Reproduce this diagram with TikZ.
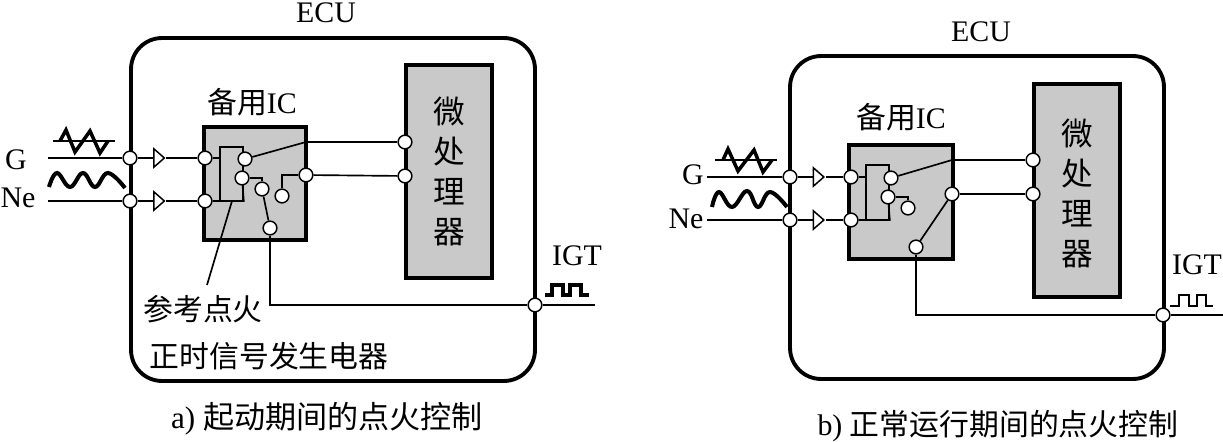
\documentclass[tikz,border=0pt]{standalone}
\usepackage{fontspec}
\setmainfont{Liberation Serif}
\newfontfamily\cjk{Noto Sans CJK SC}
\usetikzlibrary{shapes.geometric,calc,positioning}
\definecolor{chipgray}{gray}{0.79}
\tikzset{
  ecubox/.style={draw,line width=2.2pt,rounded corners=0.62cm,inner sep=0},
  chip/.style={draw,fill=chipgray,line width=2.4pt,inner sep=0},
  relay/.style={draw,line width=0.9pt,inner sep=0},
  pin/.style={draw,circle,fill=white,minimum size=7.8pt,line width=0.85pt,inner sep=0},
  buf/.style={draw,isosceles triangle,isosceles triangle stretches,fill=white,minimum width=10.5pt,minimum height=6pt,line width=0.85pt,inner sep=0},
  wire/.style={line width=0.95pt},
  hwire/.style={line width=1.4pt},
  wave/.style={line width=2pt,line join=miter},
  lbl/.style={font=\fontsize{17}{20}\selectfont,inner sep=0},
  zhlbl/.style={font=\fontsize{17}{20}\selectfont\cjk,inner sep=0},
  captxt/.style={font=\fontsize{17}{20}\selectfont,inner sep=0},
  mcutxt/.style={font=\fontsize{18}{22.6}\selectfont\cjk,align=center,inner sep=0}
}
\begin{document}
\begin{tikzpicture}[x=0.02cm,y=-0.02cm]
  \useasboundingbox (0,0) rectangle (1223,442);
  % panel a
  \node[ecubox,minimum width=8.08cm,minimum height=6.86cm] (ecuA) at (333,209.5) {};
  \node[chip,minimum width=2.04cm,minimum height=2.26cm] (icA) at (255,183.5) {};
  \node[chip,minimum width=1.72cm,minimum height=4.26cm] (mcuA) at (449,171.5) {};
  \node[mcutxt] (mcuAl) at (449,171.5) {微\\处\\理\\器};
  \node[relay,minimum width=0.46cm,minimum height=1.08cm] (relayA) at (231.5,174) {};
  \node[lbl] (ecuAl) at (326,13) {ECU};
  \node[lbl] (icAl) at (252,102) {{\cjk 备用}IC};
  \node[lbl] (gA) at (16,160) {G};
  \node[lbl] (neA) at (18,198) {Ne};
  \node[lbl] (igtA) at (577,256) {IGT};
  \node[zhlbl] (refA) at (203,309) {参考点火};
  \node[zhlbl] (timA) at (269,356) {正时信号发生电器};
  \node[captxt,font=\fontsize{17.7}{20}\selectfont] (capA) at (327,419) {a) {\cjk 起动期间的点火控制}};
  % input pins and buffers
  \coordinate (inGA) at (48,158);
  \coordinate (inNA) at (48,201);
  \node[pin] (bGA) at (130,158) {};
  \node[pin] (bNA) at (130,201) {};
  \node[buf] (tGA) at (158,158) {};
  \node[buf] (tNA) at (158,201) {};
  \node[pin] (iGA) at (205,158) {};
  \node[pin] (iNA) at (205,201) {};
  % switch contacts
  \node[pin] (c1A) at (245,159) {};
  \node[pin] (c2A) at (242,178) {};
  \node[pin] (c3A) at (262,189) {};
  \node[pin] (c4A) at (282,196) {};
  \node[pin] (c5A) at (306,175) {};
  \node[pin] (c6A) at (270,228) {};
  \node[pin] (m1A) at (405,142) {};
  \node[pin] (m2A) at (405,176) {};
  \node[pin] (oA) at (535,305) {};
  \coordinate (t1A) at (306,142);
  \coordinate (outA) at (595,305);
  \coordinate (leadA) at (207,285);
  \coordinate (baseA) at (232,201);
  \draw[wire] (inGA) -- (bGA);
  \draw[wire] (inNA) -- (bNA);
  \draw[wire] (bGA) -- (tGA);
  \draw[wire] (bNA) -- (tNA);
  \draw[wire] (tGA) -- (iGA);
  \draw[wire] (tNA) -- (iNA);
  \draw[wire] (iGA) -- (iGA -| relayA.west);
  \draw[wire] (iNA) -- (iNA -| relayA.east) -- (c2A);
  \draw[wire] (c1A) -- (t1A);
  \draw[hwire] (t1A) -- (m1A);
  \draw[wire] (c5A) -- (m2A);
  \draw[wire] (c2A) -- (c3A |- c2A) -- (c3A);
  \draw[wire] (c3A) -- (c6A);
  \draw[wire] (c4A) |- (c5A);
  \draw[wire] (c6A) |- (oA);
  \draw[wire] (oA) -- (outA);
  \draw[wire] (baseA) -- (leadA);
  % signal shapes
  \draw[wire] (53,141) -- (115,141);
  \draw[wave] (60,141) -- (66,130) -- (75,152) -- (90,131) -- (100,153) -- (108,141);
  \draw[wave,line width=2.3pt] plot[smooth,tension=0.7] coordinates {(49,187) (57,173) (70,187) (83,173) (95,187) (108,173) (125,188)};
  \draw[wave] (545,295) -- (552,295) -- (552,285) -- (563,285) -- (563,295) -- (570,295) -- (570,285) -- (581,285) -- (581,295) -- (589,295);
  % panel b
  \node[ecubox,minimum width=7.48cm,minimum height=6.46cm] (ecuB) at (977,217.5) {};
  \node[chip,minimum width=2.08cm,minimum height=2.28cm] (icB) at (901,202) {};
  \node[chip,minimum width=1.72cm,minimum height=4.26cm] (mcuB) at (1077,190.5) {};
  \node[mcutxt] (mcuBl) at (1077,193.5) {微\\处\\理\\器};
  \node[relay,minimum width=0.46cm,minimum height=1.1cm] (relayB) at (877.5,192.5) {};
  \node[lbl] (ecuBl) at (981,32) {ECU};
  \node[lbl] (icBl) at (901,117) {{\cjk 备用}IC};
  \node[lbl] (gB) at (693,175) {G};
  \node[lbl] (neB) at (686,219) {Ne};
  \node[lbl] (igtB) at (1197,265) {IGT};
  \node[captxt] (capB) at (998,426) {b) {\cjk 正常运行期间的点火控制}};
  % input pins and buffers
  \coordinate (inGB) at (707,177);
  \coordinate (inNB) at (707,220);
  \node[pin] (bGB) at (790,177) {};
  \node[pin] (bNB) at (790,220) {};
  \node[buf] (tGB) at (817.5,177) {};
  \node[buf] (tNB) at (817.5,220) {};
  \node[pin] (iGB) at (851,177) {};
  \node[pin] (iNB) at (851,220) {};
  % switch contacts
  \node[pin] (c1B) at (891,178) {};
  \node[pin] (c2B) at (888,197) {};
  \node[pin] (c3B) at (908,208) {};
  \node[pin] (c5B) at (952,194) {};
  \node[pin] (c6B) at (916,247) {};
  \node[pin] (m1B) at (1033,160) {};
  \node[pin] (m2B) at (1033,194) {};
  \node[pin] (oB) at (1163,315) {};
  \coordinate (t1B) at (952,160);
  \coordinate (outB) at (1223,315);
  \draw[wire] (inGB) -- (bGB);
  \draw[wire] (inNB) -- (bNB);
  \draw[wire] (bGB) -- (tGB);
  \draw[wire] (bNB) -- (tNB);
  \draw[wire] (tGB) -- (iGB);
  \draw[wire] (tNB) -- (iNB);
  \draw[wire] (iGB) -- (iGB -| relayB.west);
  \draw[wire] (iNB) -- (iNB -| relayB.east) -- (c2B);
  \draw[wire] (c1B) -- (t1B);
  \draw[hwire] (t1B) -- (m1B);
  \draw[wire] (c5B) -- (m2B);
  \draw[wire] (c2B) -- (c3B |- c2B) -- (c3B);
  \draw[wire] (c5B) -- (c6B);
  \draw[hwire] (c6B) |- (oB);
  \draw[hwire] (oB) -- (outB);
  % signal shapes
  \draw[wire] (715,160) -- (777,160);
  \draw[wave] (723,160) -- (728,149) -- (738,171) -- (754,150) -- (763,172) -- (772,160);
  \draw[wave,line width=2.3pt] plot[smooth,tension=0.7] coordinates {(712,207) (719,192) (732,207) (747,191) (758,207) (770,192) (787,207)};
  \draw[wire] (1170,306) -- (1179,306) -- (1179,295) -- (1189,295) -- (1189,306) -- (1197,306) -- (1197,295) -- (1206,295) -- (1206,306) -- (1213,306);
\end{tikzpicture}
\end{document}
